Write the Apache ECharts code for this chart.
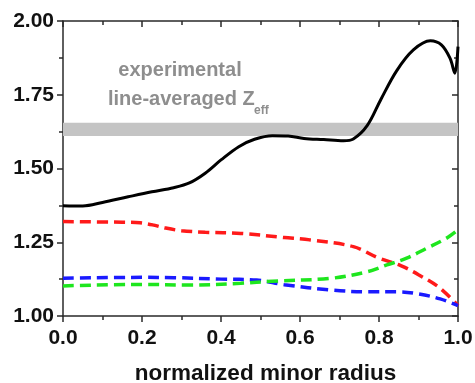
<!DOCTYPE html>
<html>
<head>
<meta charset="utf-8">
<script src="https://cdn.jsdelivr.net/npm/echarts@6/dist/echarts.min.js"></script>
<style>
  html, body { margin: 0; padding: 0; background: #fff; }
  #chart { width: 475px; height: 383px; }
</style>
</head>
<body>
<div id="chart"></div>
<script>
// Effective charge profile (solid) and its contributions (dashed)
const zeffRadius = [0, 0.05, 0.1, 0.165, 0.225, 0.28, 0.32, 0.36, 0.4, 0.445, 0.485, 0.53, 0.57, 0.61, 0.66, 0.71, 0.735, 0.77, 0.805, 0.845, 0.887, 0.93, 0.958, 0.98, 0.992, 1.0];
const zeffValues = [1.374, 1.373, 1.385, 1.404, 1.421, 1.435, 1.451, 1.484, 1.529, 1.574, 1.599, 1.611, 1.610, 1.602, 1.598, 1.594, 1.600, 1.645, 1.735, 1.832, 1.902, 1.933, 1.919, 1.873, 1.823, 1.913];

const redRadius = [0, 0.15, 0.195, 0.23, 0.26, 0.3, 0.36, 0.45, 0.56, 0.625, 0.735, 0.8, 0.855, 0.9, 0.955, 1.0];
const redValues = [1.320, 1.318, 1.316, 1.308, 1.298, 1.289, 1.284, 1.280, 1.266, 1.258, 1.235, 1.196, 1.171, 1.140, 1.094, 1.035];

const greenRadius = [0, 0.2, 0.32, 0.45, 0.53, 0.68, 0.77, 0.82, 0.87, 0.92, 0.97, 1.0];
const greenValues = [1.102, 1.107, 1.105, 1.111, 1.118, 1.128, 1.150, 1.173, 1.196, 1.229, 1.263, 1.292];

const blueRadius = [0, 0.2, 0.28, 0.4, 0.49, 0.56, 0.68, 0.77, 0.85, 0.9, 0.955, 1.0];
const blueValues = [1.128, 1.131, 1.130, 1.125, 1.122, 1.106, 1.088, 1.082, 1.082, 1.075, 1.058, 1.035];

// experimental line-averaged band
const bandLow = 1.61;
const bandHigh = 1.655;

const xTickLabels = ['0.0', '0.2', '0.4', '0.6', '0.8', '1.0'];
const yTickLabels = ['1.00', '1.25', '1.50', '1.75', '2.00'];

const pairs = (xs, ys) => xs.map((x, i) => [x, ys[i]]);

const FONT = '"Liberation Sans", Arial, sans-serif';
const axisColor = '#2a2a2a';

function makeX(position, showLabels, inside) {
  return {
    type: 'value', position: position, min: 0, max: 1, interval: 0.2,
    axisLine: { show: true, onZero: false, lineStyle: { color: axisColor, width: 1.5 } },
    axisTick: { show: true, inside: inside, length: 6, lineStyle: { color: axisColor, width: 1.5 } },
    minorTick: { show: true, splitNumber: 2, length: 4, lineStyle: { color: axisColor, width: 1.5 } },
    splitLine: { show: false },
    axisLabel: {
      show: showLabels, margin: 12, color: '#111', fontFamily: FONT, fontWeight: 'bold', fontSize: 21,
      formatter: v => xTickLabels[Math.round(v / 0.2)]
    }
  };
}
function makeY(position, showLabels, inside) {
  return {
    type: 'value', position: position, min: 1, max: 2, interval: 0.25,
    axisLine: { show: true, onZero: false, lineStyle: { color: axisColor, width: 1.5 } },
    axisTick: { show: true, inside: inside, length: 6, lineStyle: { color: axisColor, width: 1.5 } },
    minorTick: { show: true, splitNumber: 2, length: 4, lineStyle: { color: axisColor, width: 1.5 } },
    splitLine: { show: false },
    axisLabel: {
      show: showLabels, margin: 9, color: '#111', fontFamily: FONT, fontWeight: 'bold', fontSize: 21,
      formatter: v => yTickLabels[Math.round((v - 1) / 0.25)]
    }
  };
}

const xBottom = makeX('bottom', true, false);
xBottom.name = 'normalized minor radius';
xBottom.nameLocation = 'middle';
xBottom.nameGap = 46;
xBottom.nameTextStyle = { color: '#111', fontFamily: FONT, fontWeight: 'bold', fontSize: 22.5, padding: [0, 0, 0, 10] };

const dashed = (color, data) => ({
  type: 'line', data: data, smooth: 0.35, showSymbol: false, symbol: 'none',
  lineStyle: { color: color, width: 3.5, type: [11, 6] }, z: 3
});

const chart = echarts.init(document.getElementById('chart'), null, { renderer: 'canvas' });
chart.setOption({
  animation: false,
  backgroundColor: '#fff',
  grid: { left: 63, right: 17, top: 21, bottom: 67, containLabel: false, outerBoundsMode: 'none' },
  xAxis: [xBottom, makeX('top', false, true)],
  yAxis: [makeY('left', true, false), makeY('right', false, true)],
  series: [
    {
      type: 'line', data: pairs(zeffRadius, zeffValues), smooth: 0.35, showSymbol: false, symbol: 'none',
      lineStyle: { color: '#000', width: 3 }, z: 4,
      markArea: {
        silent: true,
        itemStyle: { color: '#c4c4c4' },
        data: [[{ xAxis: 0, yAxis: bandLow }, { xAxis: 1, yAxis: bandHigh }]]
      }
    },
    dashed('#ff1a1a', pairs(redRadius, redValues)),
    dashed('#1a1aff', pairs(blueRadius, blueValues)),
    dashed('#1ee61e', pairs(greenRadius, greenValues))
  ],
  graphic: [
    { type: 'text', x: 180, y: 70, style: { text: 'experimental', fill: '#8e8e8e', font: 'bold 20px ' + FONT, textAlign: 'center', textVerticalAlign: 'middle' } },
    { type: 'text', x: 108, y: 99, style: { text: 'line-averaged Z', fill: '#8e8e8e', font: 'bold 20px ' + FONT, textAlign: 'left', textVerticalAlign: 'middle' } },
    { type: 'text', x: 254, y: 111, style: { text: 'eff', fill: '#8e8e8e', font: 'bold 12px ' + FONT, textAlign: 'left', textVerticalAlign: 'middle' } }
  ]
});
</script>
</body>
</html>
